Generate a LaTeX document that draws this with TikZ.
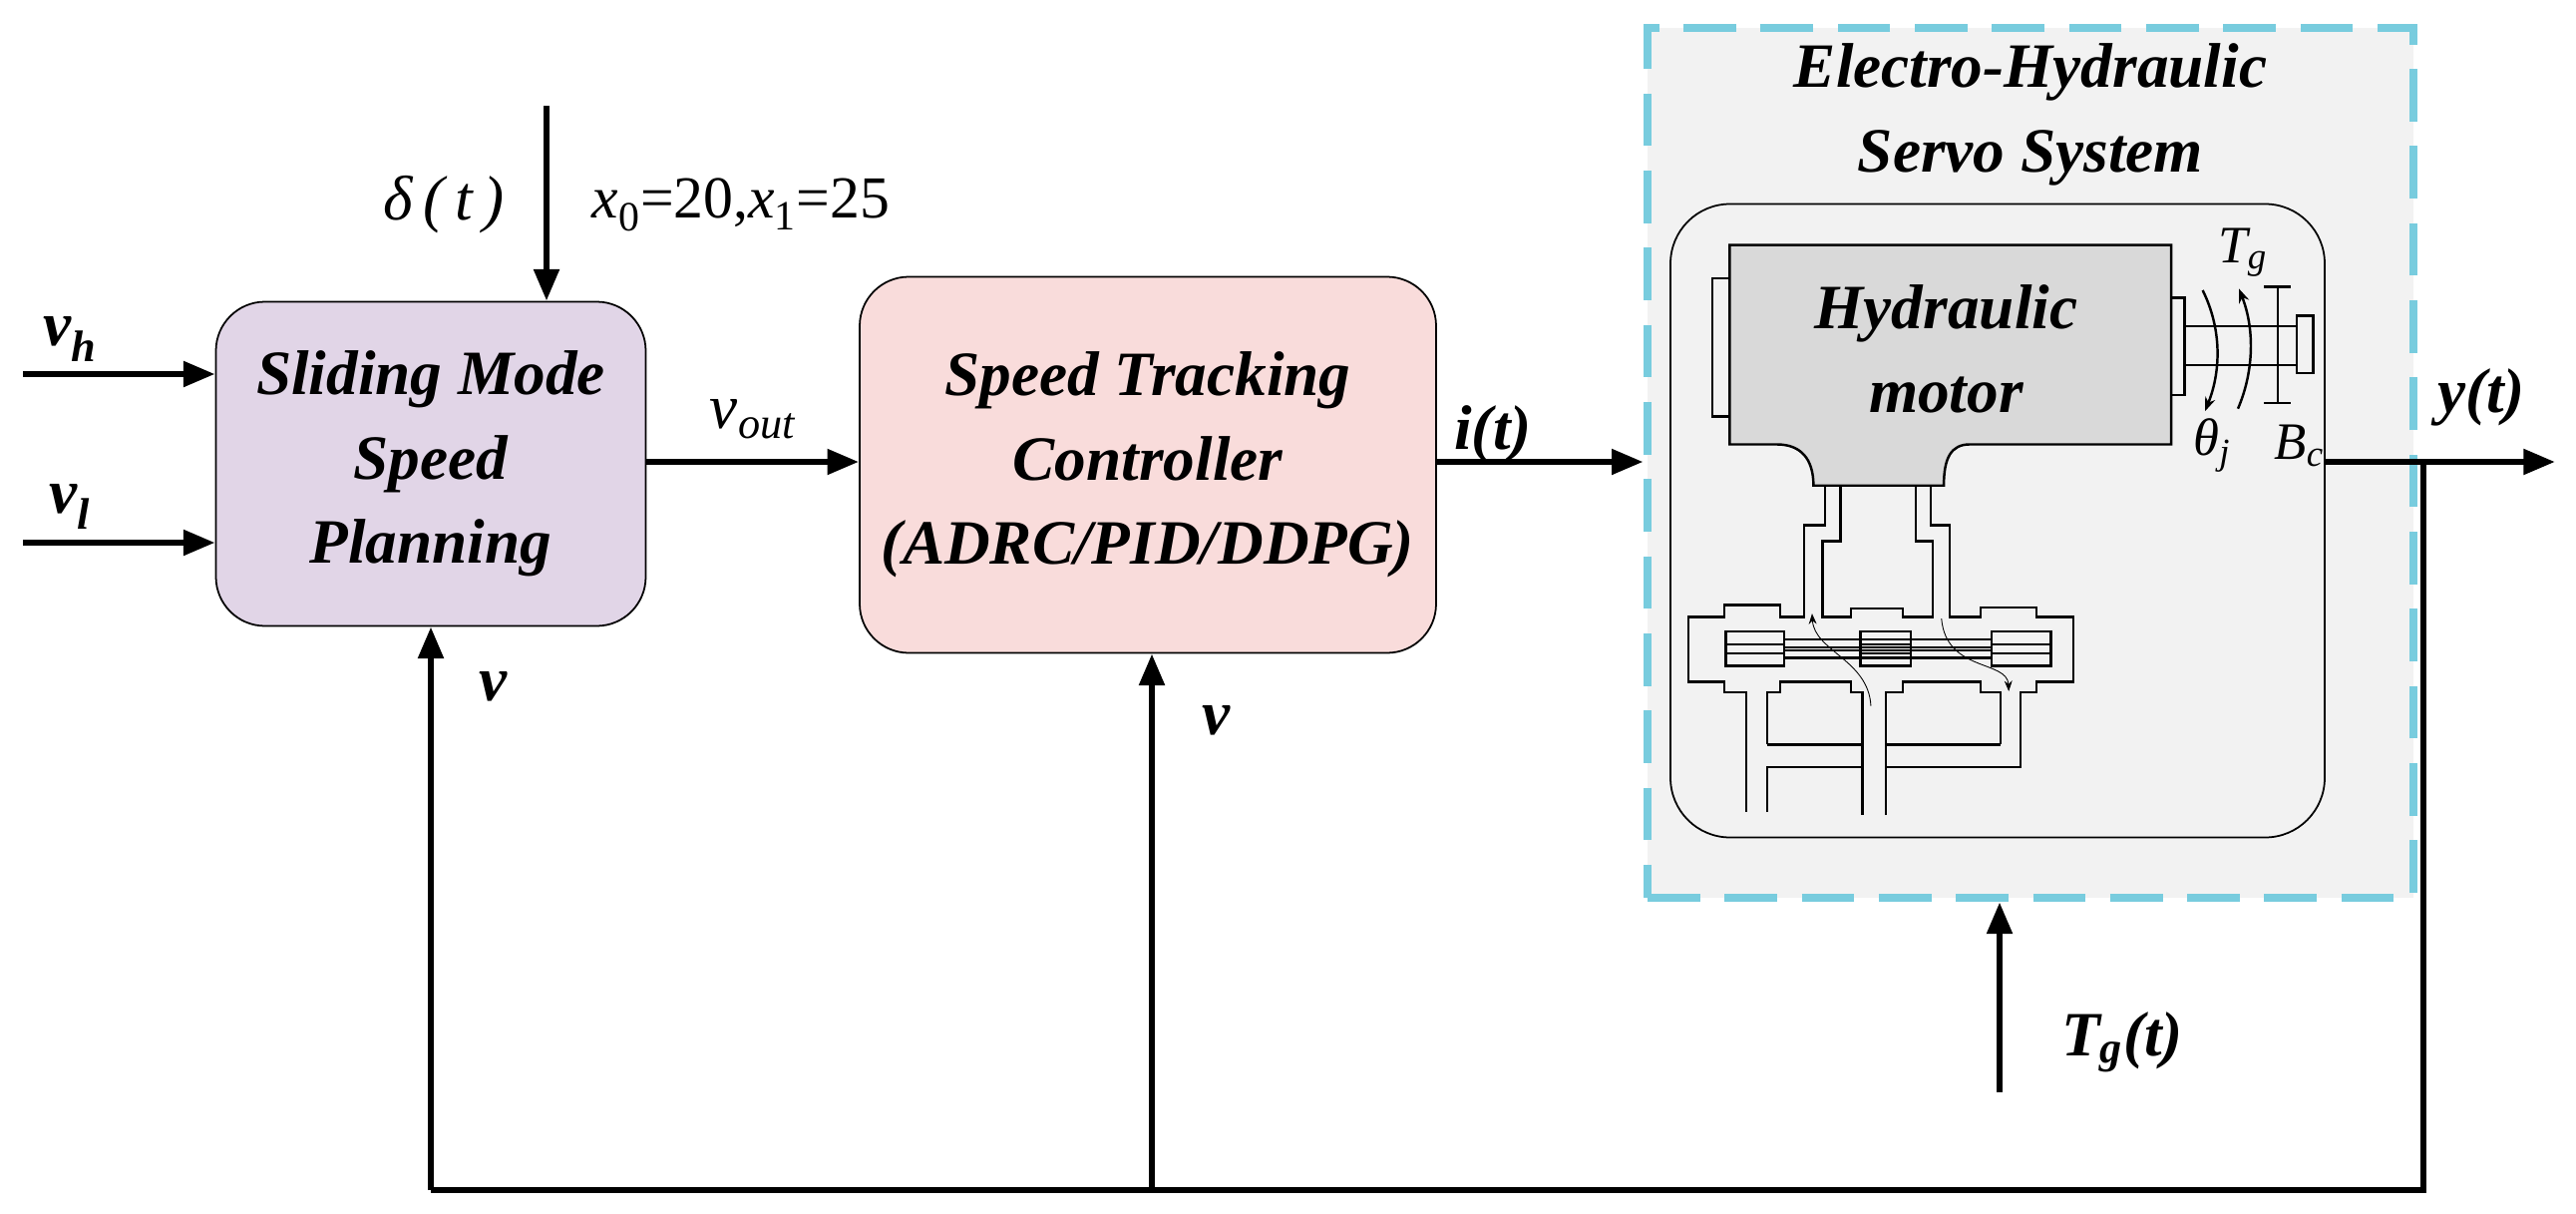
\documentclass[tikz,border=0pt]{standalone}
\usepackage{fontspec}
\setmainfont{Liberation Serif}
\usetikzlibrary{arrows.meta}
\definecolor{smc}{HTML}{E1D5E7}
\definecolor{stcc}{HTML}{F9DCDB}
\definecolor{bgc}{HTML}{F2F2F2}
\definecolor{mc}{HTML}{D9D9D9}
\definecolor{cy}{HTML}{78CCDE}
\begin{document}
\begin{tikzpicture}[x=0.02cm,y=-0.02cm,
 big/.style={font=\fontsize{36}{48}\selectfont\bfseries\itshape,align=center},
 lab/.style={font=\fontsize{36}{40}\selectfont\itshape},
 blab/.style={font=\fontsize{36}{40}\selectfont\bfseries\itshape},
 arr/.style={line width=3.6pt,-{Triangle[length=18pt,width=14pt]}},
 ln/.style={line width=3.6pt},
 th/.style={line width=1.4pt},
 box/.style={draw,line width=1pt,rounded corners=28pt,align=center,inner sep=0pt}]
\useasboundingbox (0,0) rectangle (2583,1217);
% dashed system box
\node[draw=cy,fill=bgc,line width=5pt,dash pattern=on 30pt off 14pt,minimum width=768*0.02cm,minimum height=872*0.02cm,inner sep=0pt] (ehss) at (2036,464) {};
\node[big] (title) at (2036,115) {Electro-Hydraulic\\Servo System};
\node[box,fill=bgc,rounded corners=34pt,minimum width=656*0.02cm,minimum height=635*0.02cm] (inner) at (2003,522) {};
% blocks
\node[box,fill=smc,minimum width=431*0.02cm,minimum height=325*0.02cm,big] (smsp) at (432,465) {Sliding Mode\\Speed\\Planning};
\node[box,fill=stcc,minimum width=578*0.02cm,minimum height=377*0.02cm,big] (stc) at (1151,466) {Speed Tracking\\Controller\\(ADRC/PID/DDPG)};
% hydraulic drawing in zoom coordinates
\begin{scope}[shift={(1640,190)},xscale=0.4719,yscale=0.4209]
 \draw[th,fill=mc] (200,132) -- (1138,132) -- (1138,607) -- (710,607) .. controls (670,607) and (655,640) .. (655,705) -- (378,705) .. controls (378,640) and (350,607) .. (300,607) -- (200,607) -- cycle;
 \node[big] (hm) at (660,380) {Hydraulic\\motor};
 \draw[th] (200,212) -- (163,212) -- (163,540) -- (200,540);
 \draw[th] (1138,258) -- (1167,258) -- (1167,490) -- (1138,490);
 \draw[th] (1167,325) -- (1405,325) (1167,418) -- (1405,418);
 \draw[th] (1405,300) rectangle (1440,437);
 \draw[th] (1365,232) -- (1365,508) (1335,232) -- (1393,232) (1335,508) -- (1393,508);
 \draw[th,-{Stealth[length=8pt]}] (1205,240) .. controls (1245,330) and (1245,430) .. (1210,528);
 \draw[th,-{Stealth[length=8pt]}] (1280,522) .. controls (1315,430) and (1315,330) .. (1282,236);
 \node[font=\fontsize{30}{32}\selectfont\itshape] (tg) at (1290,150) {T\textsubscript{g}};
 \node[font=\fontsize{30}{32}\selectfont\itshape] (thj) at (1225,610) {θ\textsubscript{j}};
 \node[font=\fontsize{30}{32}\selectfont\itshape] (bc) at (1410,610) {B\textsubscript{c}};
 % pipes
 \draw[th] (403,705) -- (403,800) -- (358,800) -- (358,1018) -- (307,1018) -- (307,990) -- (188,990) -- (188,1018) -- (112,1018) -- (112,1173) -- (188,1173) -- (188,1197) -- (235,1197) -- (235,1483);
 \draw[th] (435,705) -- (435,838) -- (397,838) -- (397,1018) -- (458,1018) -- (458,998) -- (568,998) -- (568,1018) -- (632,1018) -- (632,838) -- (595,838) -- (595,705);
 \draw[th] (627,705) -- (627,800) -- (668,800) -- (668,1018) -- (733,1018) -- (733,996) -- (852,996) -- (852,1018) -- (930,1018) -- (930,1173) -- (852,1173) -- (852,1197) -- (818,1197) -- (818,1375) -- (532,1375) -- (532,1490);
 \draw[th] (280,1483) -- (280,1375) -- (482,1375);
 \draw[th] (280,1322) -- (280,1197) -- (307,1197) -- (307,1173) -- (458,1173) -- (458,1197) -- (482,1197) -- (482,1490);
 \draw[th] (280,1322) -- (482,1322) (532,1322) -- (776,1322);
 \draw[th] (532,1490) -- (532,1197) -- (568,1197) -- (568,1173) -- (733,1173) -- (733,1197) -- (776,1197) -- (776,1322);
 \foreach \a/\b in {192/316,478/585,757/883}{
  \draw[th] (\a,1052) rectangle (\b,1135);
  \draw[th] (\a,1083) -- (\b,1083) (\a,1105) -- (\b,1105);}
 \draw[th] (316,1072) -- (757,1072) (316,1115) -- (757,1115) (316,1090) -- (757,1090) (316,1097) -- (757,1097);
 \draw[line width=0.5pt,-{Stealth[length=6pt]}] (500,1230) .. controls (495,1120) and (380,1100) .. (375,1010);
 \draw[line width=0.5pt,-{Stealth[length=6pt]}] (650,1022) .. controls (660,1150) and (790,1120) .. (793,1195);
\end{scope}
% inputs
\coordinate (vh0) at (23,375); \coordinate (vl0) at (23,544);
\draw[arr] (vh0) -- (vh0 -| smsp.west);
\draw[arr] (vl0) -- (vl0 -| smsp.west);
\node[blab] (vh) at (70,340) {v\textsubscript{h}};
\node[blab] (vl) at (70,508) {v\textsubscript{l}};
\coordinate (d0) at (548,106);
\draw[arr] (d0) -- (d0 |- smsp.north);
\node[lab] (dl) at (445,205) {δ\,(\,t\,)};
\node[font=\fontsize{34}{40}\selectfont] (xl) at (743,205) {\textit{x}\textsubscript{0}=20,\textit{x}\textsubscript{1}=25};
\draw[arr] (smsp.east |- 0,463) -- (stc.west |- 0,463) node[midway,above=8pt,lab] (vout) {v\textsubscript{out}};
\draw[arr] (stc.east |- 0,463) -- (ehss.west |- 0,463);
\node[blab] (it) at (1497,435) {i(t)};
% output
\coordinate (j) at (2430,463);
\coordinate (yend) at (2562,463);
\draw[ln] (inner.east |- j) -- (j);
\draw[arr] (j) -- (yend);
\node[blab] (yt) at (2488,398) {y(t)};
% Tg(t)
\coordinate (tg0) at (2005,1095);
\draw[arr] (tg0) -- (tg0 |- ehss.south);
\node[blab] (tgt) at (2128,1045) {T\textsubscript{g}(t)};
% feedback
\coordinate (b1) at (432,1193); \coordinate (b2) at (1155,1193); \coordinate (b3) at (2430,1193);
\draw[ln] (j) -- (b3) -- (b1);
\draw[arr] (b1) -- (b1 |- smsp.south);
\draw[arr] (b2) -- (b2 |- stc.south);
\node[blab] (v1) at (495,688) {v};
\node[blab] (v2) at (1220,722) {v};
\end{tikzpicture}
\end{document}
